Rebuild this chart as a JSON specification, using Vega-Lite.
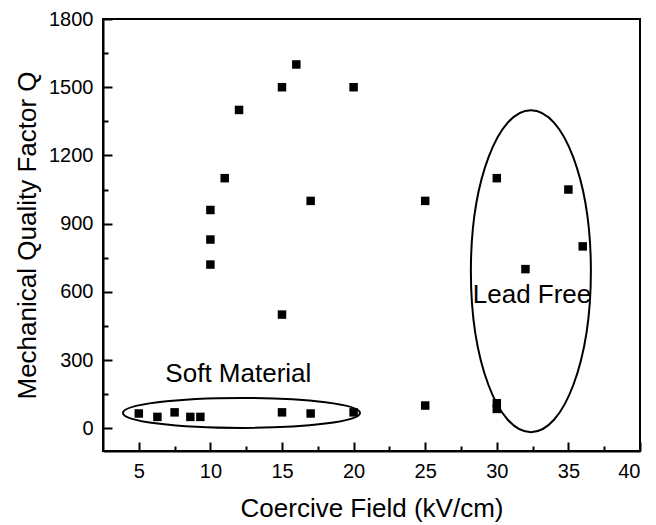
{
  "$schema": "https://vega.github.io/schema/vega-lite/v6.json",
  "autosize": "none",
  "width": 537,
  "height": 432,
  "padding": {"left": 103, "top": 19, "right": 16, "bottom": 74},
  "background": "white",
  "config": {
    "font": "Liberation Sans",
    "view": {"stroke": "black", "strokeWidth": 2},
    "axis": {
      "domainColor": "black",
      "domainWidth": 2,
      "tickColor": "black",
      "tickWidth": 2,
      "grid": false,
      "labelFont": "Liberation Sans",
      "titleFont": "Liberation Sans",
      "labelFontSize": 20,
      "titleFontSize": 26,
      "labelColor": "black",
      "titleColor": "black",
      "titleFontWeight": "normal"
    }
  },
  "datasets": {
    "pts": [
      {"field": 5, "q": 65},
      {"field": 6.3, "q": 50},
      {"field": 7.5, "q": 70},
      {"field": 8.6, "q": 50},
      {"field": 9.3, "q": 50},
      {"field": 10, "q": 720},
      {"field": 10, "q": 830},
      {"field": 10, "q": 960},
      {"field": 11, "q": 1100},
      {"field": 12, "q": 1400},
      {"field": 15, "q": 1500},
      {"field": 16, "q": 1600},
      {"field": 15, "q": 500},
      {"field": 15, "q": 70},
      {"field": 17, "q": 1000},
      {"field": 17, "q": 65},
      {"field": 20, "q": 1500},
      {"field": 20, "q": 70},
      {"field": 25, "q": 1000},
      {"field": 25, "q": 100},
      {"field": 30, "q": 1100},
      {"field": 30, "q": 110},
      {"field": 30, "q": 85},
      {"field": 32, "q": 700},
      {"field": 35, "q": 1050},
      {"field": 36, "q": 800}
    ]
  },
  "resolve": {"axis": {"x": "independent", "y": "independent"}},
  "layer": [
    {
      "data": {"name": "pts"},
      "mark": {"type": "point", "shape": "square", "filled": true, "color": "black", "size": 72, "opacity": 1},
      "encoding": {
        "x": {
          "field": "field", "type": "quantitative",
          "scale": {"domain": [2.5, 40], "nice": false, "zero": false},
          "axis": {
            "orient": "bottom",
            "title": "Coercive Field (kV/cm)",
            "values": [5, 10, 15, 20, 25, 30, 35, 40],
            "tickSize": -9,
            "labelPadding": 19,
            "titlePadding": 14
          }
        },
        "y": {
          "field": "q", "type": "quantitative",
          "scale": {"domain": [-100, 1800], "nice": false, "zero": false},
          "axis": {
            "orient": "left",
            "title": "Mechanical Quality Factor Q",
            "values": [0, 300, 600, 900, 1200, 1500, 1800],
            "format": "d",
            "tickSize": -9,
            "labelPadding": 19,
            "titlePadding": 8
          }
        }
      }
    },
    {
      "data": {"values": [{"field": 12.17, "q": 67.5}]},
      "mark": {
        "type": "point", "filled": false, "stroke": "black", "strokeWidth": 2, "opacity": 1, "size": 56169,
        "shape": "M -1 0 C -1 -0.0699 -0.5523 -0.1266 0 -0.1266 C 0.5523 -0.1266 1 -0.0699 1 0 C 1 0.0699 0.5523 0.1266 0 0.1266 C -0.5523 0.1266 -1 0.0699 -1 0 Z"
      },
      "encoding": {
        "x": {"field": "field", "type": "quantitative",
          "axis": {"orient": "bottom", "title": null, "labels": false, "domain": false, "values": [7.5, 12.5, 17.5, 22.5, 27.5, 32.5, 37.5], "tickSize": -5}},
        "y": {"field": "q", "type": "quantitative",
          "axis": {"orient": "left", "title": null, "labels": false, "domain": false, "values": [150, 450, 750, 1050, 1350, 1650], "tickSize": -5}}
      }
    },
    {
      "data": {"values": [{"field": 32.38, "q": 691}]},
      "mark": {
        "type": "point", "filled": false, "stroke": "black", "strokeWidth": 2, "opacity": 1, "size": 103684,
        "shape": "M -0.3727 0 C -0.3727 -0.5523 -0.2058 -1 0 -1 C 0.2058 -1 0.3727 -0.5523 0.3727 0 C 0.3727 0.5523 0.2058 1 0 1 C -0.2058 1 -0.3727 0.5523 -0.3727 0 Z"
      },
      "encoding": {
        "x": {"field": "field", "type": "quantitative", "axis": null},
        "y": {"field": "q", "type": "quantitative", "axis": null}
      }
    },
    {
      "data": {"values": [
        {"field": 11.95, "q": 238, "label": "Soft Material"},
        {"field": 32.46, "q": 588, "label": "Lead Free"}
      ]},
      "mark": {"type": "text", "font": "Liberation Sans", "fontSize": 26, "color": "black", "align": "center", "baseline": "middle"},
      "encoding": {
        "x": {"field": "field", "type": "quantitative", "axis": null},
        "y": {"field": "q", "type": "quantitative", "axis": null},
        "text": {"field": "label"}
      }
    }
  ]
}
